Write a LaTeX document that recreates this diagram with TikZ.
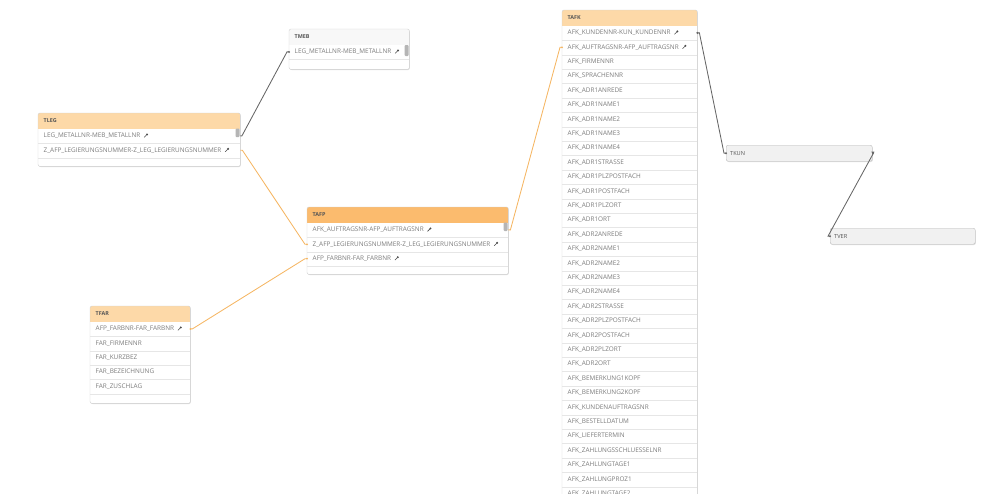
\documentclass[tikz,border=0pt]{standalone}
\usepackage{fontspec}
\setmainfont{Open Sans}
\usetikzlibrary{shadows}

\definecolor{boxline}{HTML}{D2D2D2}
\definecolor{rowline}{HTML}{E6E6E6}
\definecolor{hdrlight}{HTML}{FDD9A8}
\definecolor{hdrdark}{HTML}{FBBB6E}
\definecolor{hdrgrey}{HTML}{F8F8F8}
\definecolor{smallfill}{HTML}{F1F1F1}
\definecolor{txt}{HTML}{7C7C7C}
\definecolor{ttl}{HTML}{555555}
\definecolor{keycol}{HTML}{4A4A4A}
\definecolor{linkgrey}{HTML}{666666}
\definecolor{linkorange}{HTML}{F5B663}
\definecolor{handle}{HTML}{B5B5B5}

% small key symbol shown after key fields
\newcommand\keyicon{\hspace{3.5pt}\tikz[baseline=0pt,x=1pt,y=1pt]{%
  \draw[keycol, line width=0.6pt] (0,0.4) -- (2.4,2.8);
  \fill[keycol] (2.9,3.3) circle (1.1pt);}}

% table card: name, title, x, y, width, height, header colour
\newcommand\dbtable[7]{%
  \node[tblbox, minimum width=#5, minimum height=#6] (#1) at (#3,#4) {};
  \begin{scope}
    \clip[rounded corners=2pt] (#1.north west) rectangle (#1.south east);
    \fill[#7] (#1.north west) rectangle ([yshift=-15.5pt]#1.north east);
  \end{scope}
  \draw[rounded corners=2pt, boxline] (#1.north west) rectangle (#1.south east);
  \node[titletxt] (#1-t) at ([xshift=5.5pt, yshift=-7.75pt]#1.north west) {#2};
}

% field rows of a table: name, width, list of fields
\newcommand\dbrows[3]{%
  \foreach \t [count=\i] in {#3} {
    \node[rowbox, minimum width=#2] (#1-r\i)
      at ([yshift={-15.5pt-(\i-1)*14.4pt}]#1.north west) {};
    \node[rowtxt] (#1-x\i) at ([xshift=5.5pt]#1-r\i.west) {\t};
    \draw[rowline] (#1-r\i.south west) -- (#1-r\i.south east);
  }
}

\begin{document}
\begin{tikzpicture}[x=1pt, y=-1pt,
  tblbox/.style={anchor=north west, inner sep=0pt, fill=white,
    rounded corners=2pt,
    drop shadow={shadow xshift=0.6pt, shadow yshift=-0.9pt, fill=black, opacity=0.13}},
  rowbox/.style={anchor=north west, inner sep=0pt, minimum height=14.4},
  rowtxt/.style={anchor=west, inner sep=0pt, text=txt,
    font=\fontsize{6.4}{7}\selectfont},
  titletxt/.style={anchor=west, inner sep=0pt, text=ttl,
    font=\fontsize{5.4}{6}\selectfont\bfseries},
  smallbox/.style={anchor=north west, inner sep=0pt, fill=smallfill,
    draw=boxline!90!black, rounded corners=2pt, minimum height=16,
    drop shadow={shadow xshift=0.6pt, shadow yshift=-0.9pt, fill=black, opacity=0.12}},
  greylink/.style={draw=linkgrey, line width=0.85pt},
  orangelink/.style={draw=linkorange, line width=0.85pt},
]
\useasboundingbox (0,0) rectangle (1000,493);
\clip (0,0) rectangle (1000,493);

% ---------- tables ----------
\dbtable{tmeb}{TMEB}{289}{29}{120}{40}{hdrgrey}
\dbrows{tmeb}{120}{LEG\_METALLNR-MEB\_METALLNR\keyicon}

\dbtable{tleg}{TLEG}{38}{113}{202}{53}{hdrlight}
\dbrows{tleg}{202}{LEG\_METALLNR-MEB\_METALLNR\keyicon,
  Z\_AFP\_LEGIERUNGSNUMMER-Z\_LEG\_LEGIERUNGSNUMMER\keyicon}

\dbtable{tafp}{TAFP}{307}{207}{201}{67}{hdrdark}
\dbrows{tafp}{201}{AFK\_AUFTRAGSNR-AFP\_AUFTRAGSNR\keyicon,
  Z\_AFP\_LEGIERUNGSNUMMER-Z\_LEG\_LEGIERUNGSNUMMER\keyicon,
  AFP\_FARBNR-FAR\_FARBNR\keyicon}

\dbtable{tfar}{TFAR}{90}{306}{100}{97}{hdrlight}
\dbrows{tfar}{100}{AFP\_FARBNR-FAR\_FARBNR\keyicon, FAR\_FIRMENNR,
  FAR\_KURZBEZ, FAR\_BEZEICHNUNG, FAR\_ZUSCHLAG}

\dbtable{tafk}{TAFK}{562}{10}{135}{500}{hdrlight}
\dbrows{tafk}{135}{AFK\_KUNDENNR-KUN\_KUNDENNR\keyicon,
  AFK\_AUFTRAGSNR-AFP\_AUFTRAGSNR\keyicon,
  AFK\_FIRMENNR, AFK\_SPRACHENNR, AFK\_ADR1ANREDE,
  AFK\_ADR1NAME1, AFK\_ADR1NAME2, AFK\_ADR1NAME3, AFK\_ADR1NAME4,
  AFK\_ADR1STRASSE, AFK\_ADR1PLZPOSTFACH, AFK\_ADR1POSTFACH,
  AFK\_ADR1PLZORT, AFK\_ADR1ORT, AFK\_ADR2ANREDE,
  AFK\_ADR2NAME1, AFK\_ADR2NAME2, AFK\_ADR2NAME3, AFK\_ADR2NAME4,
  AFK\_ADR2STRASSE, AFK\_ADR2PLZPOSTFACH, AFK\_ADR2POSTFACH,
  AFK\_ADR2PLZORT, AFK\_ADR2ORT, AFK\_BEMERKUNG1KOPF,
  AFK\_BEMERKUNG2KOPF, AFK\_KUNDENAUFTRAGSNR, AFK\_BESTELLDATUM,
  AFK\_LIEFERTERMIN, AFK\_ZAHLUNGSSCHLUESSELNR, AFK\_ZAHLUNGTAGE1,
  AFK\_ZAHLUNGPROZ1, AFK\_ZAHLUNGTAGE2}

% collapsed tables
\node[smallbox, minimum width=146] (tkun) at (726,145) {};
\node[titletxt, font=\fontsize{5.6}{6}\selectfont] (tkun-t) at ([xshift=4pt]tkun.west) {TKUN};
\node[smallbox, minimum width=145] (tver) at (830,228) {};
\node[titletxt, font=\fontsize{5.6}{6}\selectfont] (tver-t) at ([xshift=4pt]tver.west) {TVER};

% scroll handles
\fill[handle, rounded corners=1pt] (404.5,45) rectangle (408.6,56);
\fill[handle, rounded corners=1pt] (235.5,128.5) rectangle (239.6,137);
\fill[handle, rounded corners=1pt] (503.5,222.5) rectangle (507.6,231);

% ---------- links ----------
\draw[greylink] (tleg-r1.east) -- ++(1.5,0) -- ([xshift=-2pt]tmeb-r1.west) -- (tmeb-r1.west);
\draw[orangelink] (tleg-r2.east) -- ++(2,0) -- ([xshift=-2pt]tafp-r2.west) -- (tafp-r2.west);
\draw[orangelink] (tfar-r1.east) -- ++(2,0) -- ([xshift=-2pt]tafp-r3.west) -- (tafp-r3.west);
\draw[orangelink] (tafp-r1.east) -- ++(2,0) -- ([xshift=-2pt]tafk-r2.west) -- (tafk-r2.west);
\draw[greylink] (tafk-r1.east) -- ++(2,0) -- ([xshift=-2pt]tkun.west) -- (tkun.west);
\draw[greylink] (tkun.east) -- ++(1,0) -- ([xshift=-2pt]tver.west) -- (tver.west);

% link end marks
\fill[linkgrey] (tmeb-r1.west) circle (1.1);
\fill[linkgrey] (tafk-r1.east) circle (1.2);
\fill[linkgrey] (tkun.west) circle (1.1);
\fill[linkgrey] (tver.west) circle (1.1);
\fill[linkgrey] ([xshift=-1pt,yshift=1.5pt]tkun.east) -- ++(3,0) -- ++(-1.5,3) -- cycle;
\fill[linkorange] (tafp-r2.west) circle (1);
\fill[linkorange] (tafp-r3.west) circle (1);
\fill[linkorange] (tafk-r2.west) circle (1);
\fill[linkorange] (tfar-r1.east) circle (1);
\end{tikzpicture}
\end{document}
